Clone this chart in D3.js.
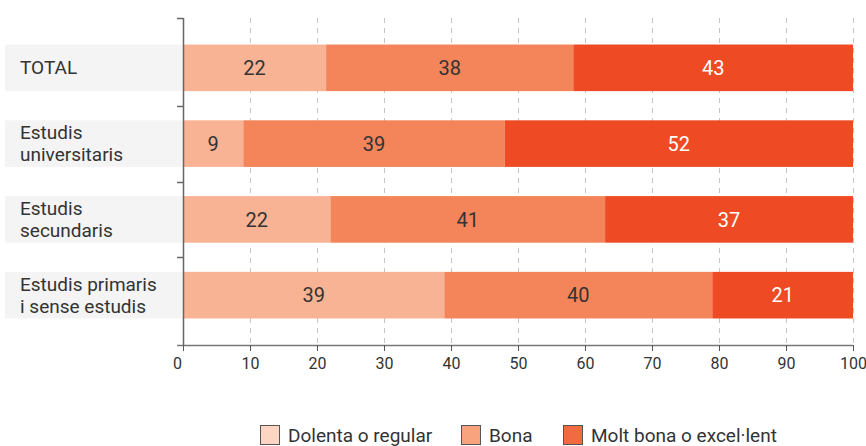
<!DOCTYPE html>
<html>
<head>
<meta charset="utf-8">
<script src="https://cdn.jsdelivr.net/npm/d3@7"></script>
<style>
  html, body { margin: 0; padding: 0; background: #fff; }
  svg { display: block; font-family: Roboto, "Noto Sans", sans-serif; }
</style>
</head>
<body>
<svg id="chart" width="866" height="446"></svg>
<script>
// Categories (one bar each), top to bottom
const categories = ["TOTAL", "Estudis universitaris", "Estudis secundaris", "Estudis primaris i sense estudis"];
const categoryLines = [["TOTAL"], ["Estudis", "universitaris"], ["Estudis", "secundaris"], ["Estudis primaris", "i sense estudis"]];

// Series (segments of each bar) and their values per category
const seriesNames = ["Dolenta o regular", "Bona", "Molt bona o excel·lent"];
const dolenta = [22, 9, 22, 39];
const bona = [38, 39, 41, 40];
const moltBona = [43, 52, 37, 21];

const xTicks = [0, 10, 20, 30, 40, 50, 60, 70, 80, 90, 100];

const barColors = ["#f8b394", "#f4845a", "#ee4b24"];
const legendColors = ["#fdd5c3", "#f8a27e", "#f26a42"];
const labelColors = ["#333333", "#333333", "#ffffff"];

const svg = d3.select("#chart");
const margin = { left: 183, right: 13, top: 18, bottom: 101 };
const W = 866, H = 446;

const x = d3.scaleLinear().domain([0, 100]).range([margin.left, W - margin.right]);
const y = d3.scaleBand().domain(categories).range([margin.top, H - margin.bottom])
  .paddingInner(0.385).paddingOuter(0.35);

// Build rows and stack them as shares of each row's total
const rows = categories.map((c, i) => {
  const vals = [dolenta[i], bona[i], moltBona[i]];
  const tot = d3.sum(vals);
  const r = { cat: c, raw: vals };
  seriesNames.forEach((s, k) => r[s] = vals[k] / tot * 100);
  return r;
});
const stacked = d3.stack().keys(seriesNames)(rows);

// Vertical dashed grid lines
svg.append("g").selectAll("line").data(xTicks.slice(1)).join("line")
  .attr("x1", d => Math.round(x(d)) + 0.5).attr("x2", d => Math.round(x(d)) + 0.5)
  .attr("y1", margin.top).attr("y2", H - margin.bottom)
  .attr("stroke", "#c4c4c4").attr("stroke-width", 1).attr("stroke-dasharray", "5,5");

// Grey bands behind the category labels
svg.append("g").selectAll("rect").data(categories).join("rect")
  .attr("x", 5).attr("y", d => y(d)).attr("width", margin.left - 5).attr("height", y.bandwidth())
  .attr("fill", "#f4f4f4");

// Category labels
const lab = svg.append("g").selectAll("text").data(categories).join("text")
  .attr("x", 20)
  .attr("font-size", 19).attr("fill", "#333");
lab.each(function(d, i) {
  const lines = categoryLines[i];
  const cy = y(d) + y.bandwidth() / 2;
  const lh = 22;
  d3.select(this).selectAll("tspan").data(lines).join("tspan")
    .attr("x", 20)
    .attr("y", (l, j) => cy + (j - (lines.length - 1) / 2) * lh)
    .attr("dy", "0.35em")
    .text(l => l);
});

// Bars
const layer = svg.append("g").selectAll("g").data(stacked).join("g")
  .attr("fill", (d, k) => barColors[k]);
layer.selectAll("rect").data(d => d.map(p => ({ p, cat: p.data.cat }))).join("rect")
  .attr("x", d => x(d.p[0])).attr("y", d => y(d.cat))
  .attr("width", d => x(d.p[1]) - x(d.p[0])).attr("height", y.bandwidth());

// Value labels centred in each segment
stacked.forEach((s, k) => {
  svg.append("g").selectAll("text").data(s).join("text")
    .attr("x", d => (x(d[0]) + x(d[1])) / 2)
    .attr("y", d => y(d.data.cat) + y.bandwidth() / 2)
    .attr("dy", "0.36em").attr("text-anchor", "middle")
    .attr("font-size", 20).attr("fill", labelColors[k])
    .text(d => d.data.raw[k]);
});

// Y axis with ticks between bands
const yAxisG = svg.append("g");
yAxisG.append("line").attr("x1", margin.left + 0.5).attr("x2", margin.left + 0.5)
  .attr("y1", margin.top).attr("y2", H - margin.bottom).attr("stroke", "#666").attr("stroke-width", 1.5);
const step = y.step();
const sepYs = categories.slice(1).map(c => y(c) - (step - y.bandwidth()) / 2);
const yTicksAll = [margin.top, ...sepYs];
yAxisG.selectAll("line.t").data(yTicksAll).join("line").attr("class", "t")
  .attr("x1", margin.left - 6).attr("x2", margin.left)
  .attr("y1", d => Math.round(d) + 0.5).attr("y2", d => Math.round(d) + 0.5)
  .attr("stroke", "#666").attr("stroke-width", 1.5);

// X axis
const xAxis = d3.axisBottom(x).tickValues(xTicks).tickSize(6).tickSizeOuter(0);
const xg = svg.append("g").attr("transform", `translate(0,${H - margin.bottom})`).call(xAxis);
xg.select(".domain").attr("stroke", "#777").attr("stroke-width", 1.5)
  .attr("d", `M${margin.left - 6},0.5H${x(100)}`);
xg.selectAll(".tick line").attr("stroke", "#555");
xg.selectAll(".tick text").attr("font-size", 16).attr("fill", "#333")
  .attr("font-family", "Roboto, sans-serif").attr("dy", "0.95em")
  .attr("x", d => d === 0 ? -6 : 0);

// Legend
const legendX = [260, 461, 563];
const lg = svg.append("g");
seriesNames.forEach((s, k) => {
  lg.append("rect").attr("x", legendX[k] + 0.5).attr("y", 425.5).attr("width", 19).attr("height", 19)
    .attr("fill", legendColors[k]).attr("stroke", "#555").attr("stroke-width", 1);
  lg.append("text").attr("x", legendX[k] + 28).attr("y", 435.5).attr("dy", "0.35em")
    .attr("font-size", 19).attr("fill", "#333").text(s);
});
</script>
</body>
</html>
